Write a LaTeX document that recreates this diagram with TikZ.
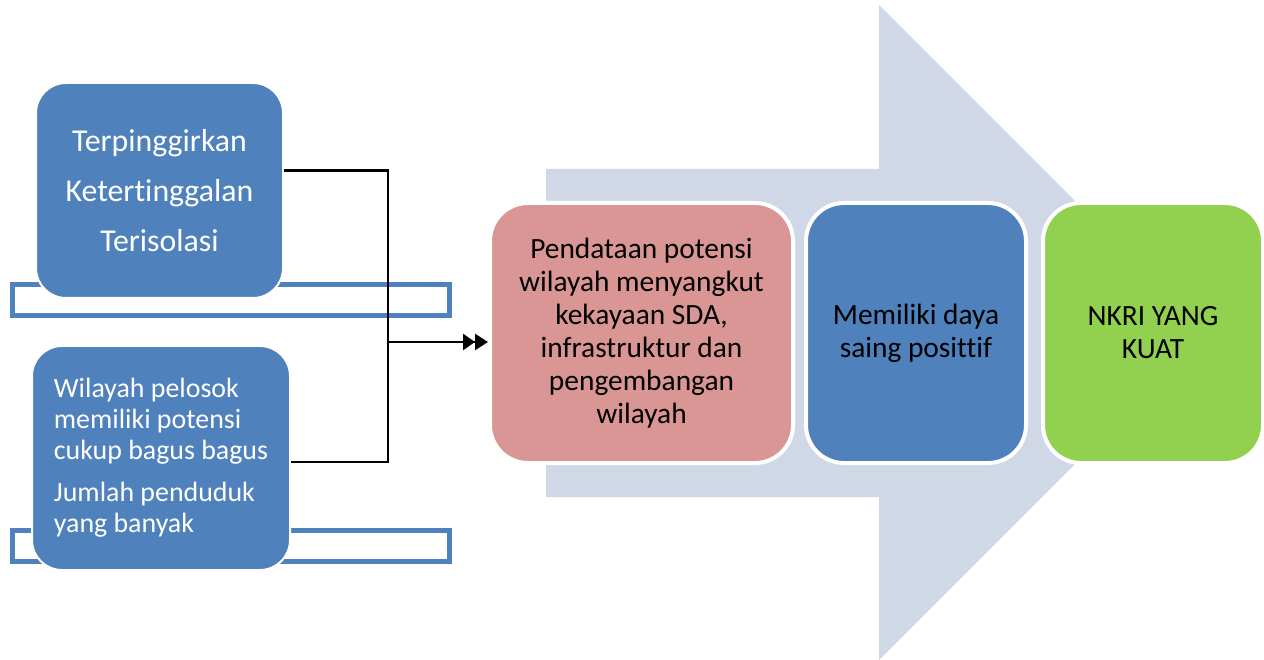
\documentclass[tikz,border=0pt]{standalone}
\usepackage{fontspec}
\setmainfont{Carlito}[Ligatures=NoCommon]
\usetikzlibrary{arrows.meta}
\definecolor{bblue}{HTML}{4F81BD}
\definecolor{bpink}{HTML}{D99694}
\definecolor{bgreen}{HTML}{92D050}
\definecolor{barrow}{HTML}{D0D8E8}
\begin{document}
\begin{tikzpicture}[x=1pt,y=-1pt,
  leftbox/.style={rectangle,rounded corners=30pt,fill=bblue,draw=white,line width=2pt,inner sep=0pt,text=white},
  rowbox/.style={rectangle,rounded corners=38pt,draw=white,line width=4pt,inner sep=0pt,text=black,align=center,
     font=\fontsize{29.4}{33}\selectfont},
  bracketbox/.style={draw=bblue,line width=5pt},
  conn/.style={draw=black,line width=2.6pt}
]
\useasboundingbox (0,0) rectangle (1264,660);
% big arrow
\fill[barrow] (546,169) -- (879,169) -- (879,5) -- (1206.5,332.5) -- (879,660) -- (879,497) -- (546,497) -- cycle;
% brackets
\draw[bracketbox] (12.5,284.5) rectangle (449.5,315.5);
\draw[bracketbox] (12.5,530.5) rectangle (449.5,561);
% left boxes
\node[leftbox,minimum width=247pt,minimum height=215pt,align=center,
  font=\fontsize{31.8}{50}\selectfont] (b1) at (159.5,190.5)
  {Terpinggirkan\\Ketertinggalan\\Terisolasi};
\node[leftbox,minimum width=258pt,minimum height=224pt,align=left,
  font=\fontsize{27.9}{31}\selectfont] (b2) at (161,458)
  {Wilayah pelosok\\memiliki potensi\\cukup bagus bagus\\[11pt]Jumlah penduduk\\yang banyak};
% row boxes
\node[rowbox,fill=bpink,minimum width=303pt,minimum height=260pt] (p) at (641.5,333)
  {Pendataan potensi\\wilayah menyangkut\\kekayaan SDA,\\infrastruktur dan\\pengembangan\\wilayah};
\node[rowbox,fill=bblue,minimum width=220pt,minimum height=260pt] (m) at (916,333)
  {Memiliki daya\\saing posittif};
\node[rowbox,fill=bgreen,minimum width=220pt,minimum height=260pt] (n) at (1153,333)
  {NKRI YANG\\KUAT};
% connectors
\coordinate (j) at (388,342);
\draw[conn] ([yshift=20pt]b1.east) -| (j);
\draw[conn] ([yshift=-4pt]b2.east) -| (j);
\draw[conn,-{Triangle[length=12pt,width=16pt]Triangle[length=13pt,width=16pt]}] (j) -- ([yshift=-9pt]p.west);
\end{tikzpicture}
\end{document}
